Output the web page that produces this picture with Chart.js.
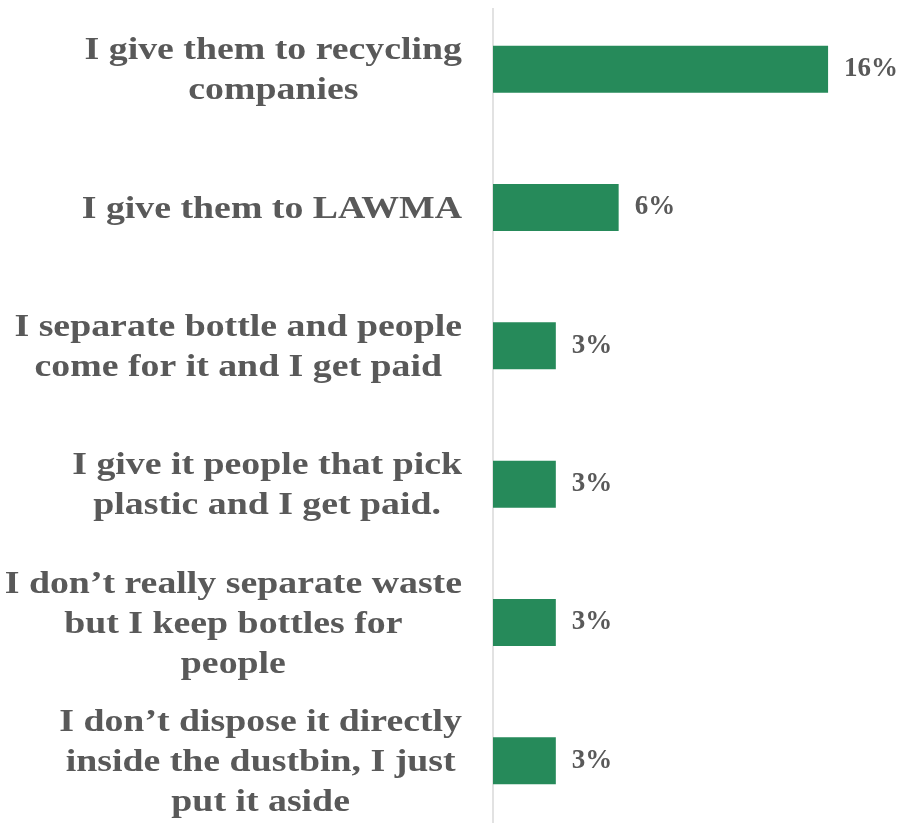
<!DOCTYPE html>
<html>
<head>
<meta charset="utf-8">
<script src="https://cdn.jsdelivr.net/npm/chart.js@4.4.1/dist/chart.umd.min.js"></script>
<style>
  html, body { margin: 0; padding: 0; background: #fff; overflow: hidden; }
  #wrap { position: relative; width: 903px; height: 832px; }
</style>
</head>
<body>
<div id="wrap"><canvas id="disposal"></canvas></div>
<script>
// answers, top to bottom (each entry is the wrapped lines)
const categories = [
    ["I give them to recycling", "companies"],
    ["I give them to LAWMA"],
    ["I separate bottle and people", "come for it and I get paid"],
    ["I give it people that pick", "plastic and I get paid."],
    ["I don\u2019t really separate waste", "but I keep bottles for", "people"],
    ["I don\u2019t dispose it directly", "inside the dustbin, I just", "put it aside"]
];
const shares = [16, 6, 3, 3, 3, 3];
const shareLabels = ["16%", "6%", "3%", "3%", "3%", "3%"];

const GREEN = '#268a5a';
const TEXT = '#595959';
const LABEL_FONT = 'bold 31px "Liberation Serif", "DejaVu Serif", serif';
const VALUE_FONT = 'bold 27px "Liberation Serif", "DejaVu Serif", serif';
const LABEL_STRETCH = 1.22; // the category face is wider than Times

// category text: block right-aligned against the axis, lines centred inside it
const categoryText = {
    id: 'categoryText',
    afterDraw(chart) {
        const ctx = chart.ctx;
        const yScale = chart.scales.y;
        const right = chart.chartArea.left - 31;
        const lineH = 40;
        ctx.save();
        ctx.font = LABEL_FONT;
        ctx.fillStyle = TEXT;
        ctx.textAlign = 'center';
        ctx.textBaseline = 'middle';
        categories.forEach((lines, i) => {
            const blockW = Math.max(...lines.map(l => ctx.measureText(l).width)) * LABEL_STRETCH;
            const cx = right - blockW / 2;
            const cy = yScale.getPixelForTick(i) + 2;
            lines.forEach((l, j) => {
                ctx.save();
                ctx.translate(cx, cy + (j - (lines.length - 1) / 2) * lineH);
                ctx.scale(LABEL_STRETCH, 1);
                ctx.fillText(l, 0, 0);
                ctx.restore();
            });
        });
        ctx.restore();
    }
};

// percentage next to each bar
const valueText = {
    id: 'valueText',
    afterDatasetsDraw(chart) {
        const ctx = chart.ctx;
        const meta = chart.getDatasetMeta(0);
        ctx.save();
        ctx.font = VALUE_FONT;
        ctx.fillStyle = TEXT;
        ctx.textAlign = 'left';
        ctx.textBaseline = 'middle';
        meta.data.forEach((bar, i) => {
            ctx.fillText(shareLabels[i], bar.x + 16, bar.y);
        });
        ctx.restore();
    }
};

// thin vertical axis line, starting a little below the top
const axisLine = {
    id: 'axisLine',
    beforeDatasetsDraw(chart) {
        const ctx = chart.ctx;
        const x = chart.scales.x.getPixelForValue(0);
        ctx.save();
        ctx.strokeStyle = '#d9d9d9';
        ctx.lineWidth = 1.5;
        ctx.beginPath();
        ctx.moveTo(x, chart.chartArea.top + 8);
        ctx.lineTo(x, chart.chartArea.bottom);
        ctx.stroke();
        ctx.restore();
    }
};

new Chart(document.getElementById('disposal'), {
    type: 'bar',
    data: {
        labels: categories,
        datasets: [{
            data: shares,
            backgroundColor: GREEN,
            borderWidth: 0,
            categoryPercentage: 0.34,
            barPercentage: 1
        }]
    },
    options: {
        indexAxis: 'y',
        responsive: true,
        maintainAspectRatio: false,
        animation: false,
        layout: { padding: { top: 0, right: 10, bottom: 2, left: 0 } },
        plugins: {
            legend: { display: false },
            tooltip: { enabled: false }
        },
        scales: {
            x: {
                min: 0,
                max: 19.1,
                display: false
            },
            y: {
                grid: { display: false },
                border: { display: false },
                ticks: { display: false },
                afterFit(scale) { scale.width = 493; }
            }
        }
    },
    plugins: [axisLine, valueText, categoryText]
});
</script>
</body>
</html>
